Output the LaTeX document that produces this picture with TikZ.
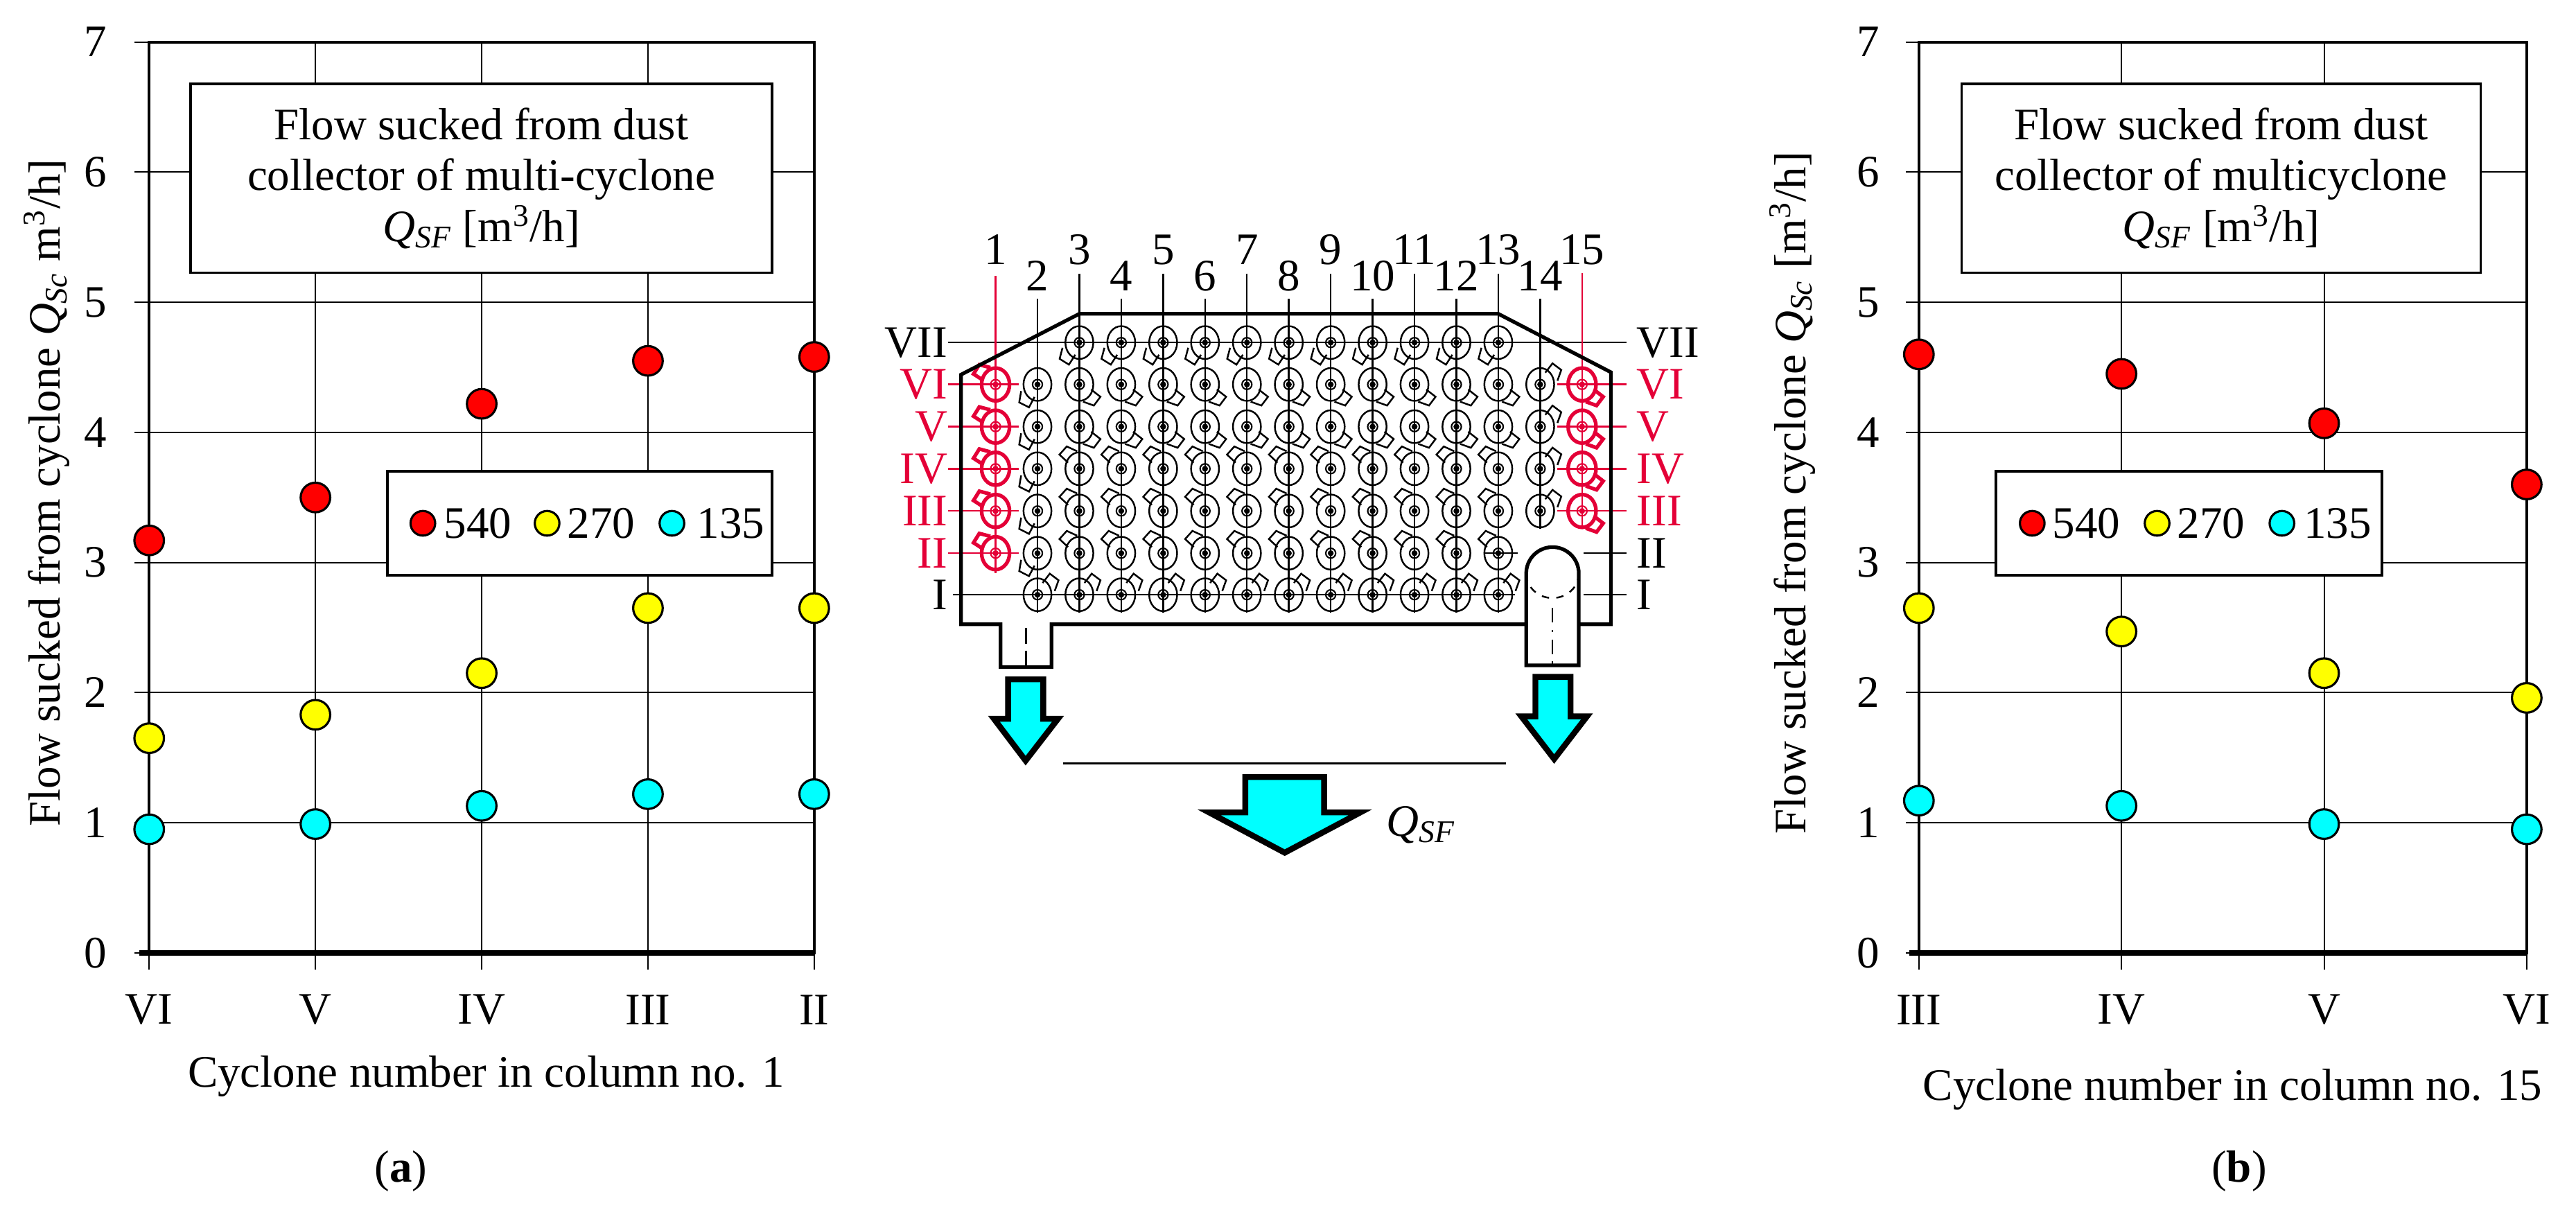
\documentclass[tikz,border=0pt]{standalone}
\usepackage{fontspec}
\setmainfont{Liberation Serif}
\begin{document}
\newcommand\fs{\fontsize{18.5}{21}\selectfont}
\newcommand\cyc[5]{%
\pgfmathsetmacro\cyx{#1}\pgfmathsetmacro\cyy{#2}%
\begin{scope}[shift={(\cyx,\cyy)}]
\draw[#4,line width=#5] (0,0) ellipse [x radius=8.5, y radius=10];
\draw[#4,line width=0.6pt] (0,0) circle[radius=3];
\fill[#4] (0,0) circle[radius=1.8];
\draw[#4,line width=#5,rotate=-#3] (7,-3.5) -- (14,-5) -- (15.5,1.5) -- (9.5,5);
\end{scope}}
\definecolor{cyr}{RGB}{228,0,55}
\definecolor{myred}{RGB}{255,0,0}
\definecolor{myyel}{RGB}{255,255,0}
\definecolor{mycyan}{RGB}{0,255,255}
\begin{tikzpicture}[x=0.023705cm,y=-0.023705cm,
  grid/.style={line width=0.6pt},
  border/.style={line width=1.1pt},
  box/.style={draw,line width=1.1pt,fill=white},
  lbl/.style={font=\fs,inner sep=0pt},
  mk/.style={draw=black,line width=0.9pt},
  outl/.style={line width=1.5pt},
  col/.style={line width=0.7pt},
  arr/.style={draw,line width=2.4pt,fill=mycyan,line join=miter}]
\useasboundingbox (0,0) rectangle (1568,735);
\fill[white] (0,0) rectangle (1568,735);
% ================= LEFT CHART =================
\foreach \v in {1,...,6} {\draw[grid] (90.8,{580-79.2*\v}) -- (495.6,{580-79.2*\v});}
\foreach \xx in {191.9,293.1,394.4} {\draw[grid] (\xx,25.8) -- (\xx,580); \draw[grid] (\xx,580) -- (\xx,590);}
\foreach \v in {0,...,7} {\draw[grid] (82,{580-79.2*\v}) -- (90.8,{580-79.2*\v});
  \node[lbl] (la\v) at (58,{580-79.2*\v}) {\v};}
\draw[border] (90.8,25.8) rectangle (495.6,580);
\draw[line width=2.4pt] (85,580) -- (495.6,580);
\draw[grid] (90.8,580) -- (90.8,590);\draw[grid] (495.6,580) -- (495.6,590);
\node[box,minimum width=354*0.023705cm,minimum height=115*0.023705cm,inner sep=0pt,align=center,font=\fs] (ta) at (293,108.5)
 {Flow sucked from dust\\collector of multi-cyclone\\\textit{Q\textsubscript{SF}} [m\textsuperscript{3}/h]};
\node[box,minimum width=234*0.023705cm,minimum height=63*0.023705cm,inner sep=0pt] (lega) at (352.8,318.5) {};
\filldraw[fill=myred,mk] (257.4,318.5) circle[radius=7.5];
\node[lbl,anchor=west] (lga1) at (270,318.5) {540};
\filldraw[fill=myyel,mk] (333,318.5) circle[radius=7.5];
\node[lbl,anchor=west] (lga2) at (345,318.5) {270};
\filldraw[fill=mycyan,mk] (409,318.5) circle[radius=7.5];
\node[lbl,anchor=west] (lga3) at (424,318.5) {135};
\foreach \i/\a/\b/\c in {0/3.17/1.65/0.95,1/3.5/1.83/0.99,2/4.22/2.15/1.13,3/4.55/2.65/1.22,4/4.58/2.65/1.22}{
  \filldraw[fill=myred,mk] ({90.8+101.2*\i},{580-79.2*\a}) circle[radius=9];
  \filldraw[fill=myyel,mk] ({90.8+101.2*\i},{580-79.2*\b}) circle[radius=9];
  \filldraw[fill=mycyan,mk] ({90.8+101.2*\i},{580-79.2*\c}) circle[radius=9];}
\foreach \i/\lab in {0/VI,1/V,2/IV,3/III,4/II} {\node[lbl] (xa\i) at ({90.8+101.2*\i},614.6) {\lab};}
\node[lbl] (xla) at (296,655) {Cyclone number in column no. 1};
\node[lbl] (capa) at (244,713) {(\textbf{a})};
\node[lbl,rotate=90] (yla) at (28.6,300) {Flow sucked from cyclone \textit{Q\textsubscript{Sc}} m\textsuperscript{3}/h]};
% ================= RIGHT CHART =================
\foreach \v in {1,...,6} {\draw[grid] (1168,{580-79.2*\v}) -- (1538,{580-79.2*\v});}
\foreach \xx in {1291.3,1414.7} {\draw[grid] (\xx,25.8) -- (\xx,580); \draw[grid] (\xx,580) -- (\xx,590);}
\foreach \v in {0,...,7} {\draw[grid] (1160,{580-79.2*\v}) -- (1168,{580-79.2*\v});
  \node[lbl] (lb\v) at (1137,{580-79.2*\v}) {\v};}
\draw[border] (1168,25.8) rectangle (1538,580);
\draw[line width=2.4pt] (1162,580) -- (1538,580);
\draw[grid] (1168,580) -- (1168,590);\draw[grid] (1538,580) -- (1538,590);
\node[box,minimum width=316*0.023705cm,minimum height=115*0.023705cm,inner sep=0pt,align=center,font=\fs] (tb) at (1352,108.5)
 {Flow sucked from dust\\collector of multicyclone\\\textit{Q\textsubscript{SF}} [m\textsuperscript{3}/h]};
\node[box,minimum width=235*0.023705cm,minimum height=63*0.023705cm,inner sep=0pt] (legb) at (1332.5,318.5) {};
\filldraw[fill=myred,mk] (1237,318.5) circle[radius=7.5];
\node[lbl,anchor=west] (lgb1) at (1249,318.5) {540};
\filldraw[fill=myyel,mk] (1313,318.5) circle[radius=7.5];
\node[lbl,anchor=west] (lgb2) at (1325,318.5) {270};
\filldraw[fill=mycyan,mk] (1389,318.5) circle[radius=7.5];
\node[lbl,anchor=west] (lgb3) at (1402,318.5) {135};
\foreach \i/\a/\b/\c in {0/4.6/2.65/1.17,1/4.45/2.47/1.13,2/4.07/2.15/0.99,3/3.6/1.96/0.95}{
  \filldraw[fill=myred,mk] ({1168+123.33*\i},{580-79.2*\a}) circle[radius=9];
  \filldraw[fill=myyel,mk] ({1168+123.33*\i},{580-79.2*\b}) circle[radius=9];
  \filldraw[fill=mycyan,mk] ({1168+123.33*\i},{580-79.2*\c}) circle[radius=9];}
\foreach \i/\lab in {0/III,1/IV,2/V,3/VI} {\node[lbl] (xb\i) at ({1168+123.33*\i},614.6) {\lab};}
\node[lbl] (xlb) at (1359,663) {Cyclone number in column no. 15};
\node[lbl] (capb) at (1363,713) {(\textbf{b})};
\node[lbl,rotate=90] (ylb) at (1091,300) {Flow sucked from cyclone \textit{Q\textsubscript{Sc}} [m\textsuperscript{3}/h]};
% ================= MIDDLE DIAGRAM =================
\draw[col] (577,208.5) -- (990,208.5);
\draw[col] (580,362) -- (922,362);
\foreach \r in {234,259.7,285.3,311,336.7} {\draw[col,cyr] (577,\r) -- (620,\r);}
\foreach \r in {234,259.7,285.3,311} {\draw[col,cyr] (948,\r) -- (990,\r);}
\draw[col] (964,336.7) -- (990,336.7);
\draw[col] (964,362) -- (990,362);
\draw[col] (903,336.7) -- (924,336.7);
\foreach \k in {2,...,13} {
  \pgfmathsetmacro\cx{606+25.5*(\k-1)}
  \pgfmathsetmacro\ct{mod(\k,2)==1 ? 166.5 : 182}
  \draw[col] (\cx,\ct) -- (\cx,373);
  \pgfmathsetmacro\ly{mod(\k,2)==1 ? 152 : 168}
  \node[lbl] (cn\k) at (\cx,\ly) {\k};}
\draw[col,cyr] (606,168) -- (606,349);
\node[lbl] (cn1) at (606,152) {1};
\draw[col] (937.5,182) -- (937.5,322);
\node[lbl] (cn14) at (937.5,168) {14};
\draw[col,cyr] (963,166) -- (963,322);
\node[lbl] (cn15) at (963,152) {15};
\foreach \k in {3,...,13} {\cyc{606+25.5*(\k-1)}{208.5}{135}{black}{0.7pt}}
\foreach \k in {3,...,13} {\cyc{606+25.5*(\k-1)}{234}{50}{black}{0.7pt}\cyc{606+25.5*(\k-1)}{259.7}{50}{black}{0.7pt}}
\foreach \k in {3,...,13} {\foreach \r in {285.3,311,336.7} {\cyc{606+25.5*(\k-1)}{\r}{235}{black}{0.7pt}}}
\foreach \k in {2,...,13} {\cyc{606+25.5*(\k-1)}{362}{-40}{black}{0.7pt}}
\foreach \r in {234,259.7,285.3,311,336.7} {\cyc{631.5}{\r}{130}{black}{0.7pt}}
\foreach \r in {234,259.7,285.3,311} {\cyc{937.5}{\r}{-40}{black}{0.7pt}}
\foreach \r in {234,259.7,285.3,311,336.7} {\cyc{606}{\r}{225}{cyr}{1.5pt}}
\foreach \r in {234,259.7,285.3,311} {\cyc{963}{\r}{50}{cyr}{1.5pt}}
\foreach \lab/\r/\cc in {VII/208.5/black,VI/234/cyr,V/259.7/cyr,IV/285.3/cyr,III/311/cyr,II/336.7/cyr,I/362/black}
  {\node[lbl,anchor=east,text=\cc] (rl\lab) at (577,\r) {\lab};}
\foreach \lab/\r/\cc in {VII/208.5/black,VI/234/cyr,V/259.7/cyr,IV/285.3/cyr,III/311/cyr,II/336.7/black,I/362/black}
  {\node[lbl,anchor=west,text=\cc] (rr\lab) at (996,\r) {\lab};}
\draw[outl,line join=miter] (929,380) -- (640,380) -- (640,406) -- (609,406) -- (609,380) -- (585,380) -- (585,228) -- (657,191)
  -- (912,191) -- (980.6,226.6) -- (980.6,380) -- (961,380);
\draw[col] (624.5,382) -- (624.5,392); \draw[col] (624.5,396) -- (624.5,406);
\filldraw[outl,fill=white] (929,405) -- (929,349) arc[start angle=180,end angle=360,radius=16] -- (961,405) -- cycle;
\draw[col,dashed] (929,349) arc[start angle=180,end angle=0,x radius=16,y radius=15];
\draw[col,dash pattern=on 6pt off 3pt on 1pt off 3pt] (945,370) -- (945,405);
\draw[arr] (613.6,413.5) -- (635,413.5) -- (635,437.5) -- (644,437.5) -- (624.3,463) -- (605,437.5) -- (613.6,437.5) -- cycle;
\draw[arr] (934.6,412) -- (956,412) -- (956,436) -- (966,436) -- (946,462) -- (926,436) -- (934.6,436) -- cycle;
\draw[line width=0.9pt] (647,464.6) -- (916.5,464.6);
\draw[arr] (758,473) -- (806,473) -- (806,494.5) -- (828,494.5) -- (782,519) -- (736,494.5) -- (758,494.5) -- cycle;
\node[lbl] (qsf) at (865,502) {\textit{Q\textsubscript{SF}}};
\end{tikzpicture}
\end{document}
